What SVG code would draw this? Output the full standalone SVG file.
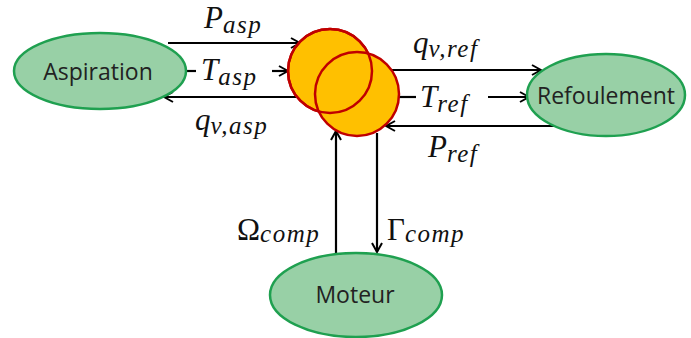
<svg xmlns="http://www.w3.org/2000/svg" width="691" height="338" viewBox="0 0 691 338">
<defs>
<style>
.node{fill:#98d0a6;stroke:#1fa050;stroke-width:2.5}
.comp{fill:#ffc000;stroke:#c00000;stroke-width:2.5}
.lbl{font-family:"Open Sans","Noto Sans",sans-serif;font-size:23px;fill:#222;text-anchor:middle}
.m{font-family:"Liberation Serif","DejaVu Serif",serif;font-style:italic;font-size:31px;fill:#111}
.s{font-size:25px;letter-spacing:1.5px}
.up{font-style:normal}
.c{stroke:#000;stroke-width:2.2;fill:none}
</style>
<marker id="ah" viewBox="0 0 12 12" refX="11" refY="6" markerWidth="12" markerHeight="12" markerUnits="userSpaceOnUse" orient="auto">
<path d="M2,1 L11,6 L2,11" fill="none" stroke="#000" stroke-width="2"/>
</marker>
</defs>
<g id="connectors">
<line class="c" x1="168" y1="43" x2="300" y2="43" marker-end="url(#ah)"/>
<line class="c" x1="187" y1="71" x2="196" y2="71"/>
<line class="c" x1="272" y1="71" x2="288" y2="71" marker-end="url(#ah)"/>
<line class="c" x1="296" y1="97" x2="164" y2="97" marker-end="url(#ah)"/>
<line class="c" x1="372" y1="70" x2="541" y2="70" marker-end="url(#ah)"/>
<line class="c" x1="399" y1="97" x2="416" y2="97"/>
<line class="c" x1="488" y1="97" x2="529" y2="97" marker-end="url(#ah)"/>
<line class="c" x1="557" y1="126" x2="386" y2="126" marker-end="url(#ah)"/>
<line class="c" x1="336" y1="254" x2="336" y2="131" marker-end="url(#ah)"/>
<line class="c" x1="377" y1="133" x2="377" y2="252" marker-end="url(#ah)"/>
</g>
<g id="aspiration"><ellipse class="node" cx="100" cy="71" rx="86" ry="38"/><text class="lbl" x="98" y="80">Aspiration</text></g>
<g id="compresseur"><circle class="comp" cx="330" cy="71" r="42"/><circle class="comp" cx="357" cy="94" r="42"/><circle cx="330" cy="71" r="42" fill="none" stroke="#c00000" stroke-width="2.5"/></g>
<g id="refoulement"><ellipse class="node" cx="606" cy="95" rx="79" ry="41"/><text class="lbl" x="606" y="104">Refoulement</text></g>
<g id="moteur"><ellipse class="node" cx="356" cy="295" rx="86" ry="42"/><text class="lbl" x="355" y="303">Moteur</text></g>
<g id="labels">
<text class="m" x="204" y="28">P<tspan class="s" dy="5">asp</tspan></text>
<text class="m" x="201" y="80">T<tspan class="s" dy="5">asp</tspan></text>
<text class="m" x="195" y="130">q<tspan class="s" dy="4">v,asp</tspan></text>
<text class="m" x="413" y="53">q<tspan class="s" dy="4">v,ref</tspan></text>
<text class="m" x="420" y="107">T<tspan class="s" dy="5">ref</tspan></text>
<text class="m" x="428" y="157">P<tspan class="s" dy="5">ref</tspan></text>
<text class="m" x="237" y="240"><tspan class="up">Ω</tspan><tspan class="s" dy="2">comp</tspan></text>
<text class="m" x="387" y="240"><tspan class="up">Γ</tspan><tspan class="s" dy="2">comp</tspan></text>
</g>
</svg>
